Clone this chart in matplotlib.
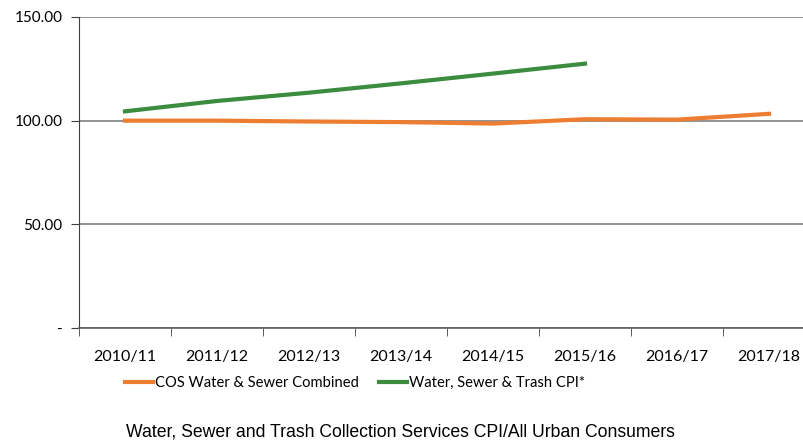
import numpy as np
import matplotlib.pyplot as plt

plt.rcParams['font.family'] = ['Lato', 'DejaVu Sans']

years = ['2010/11', '2011/12', '2012/13', '2013/14', '2014/15', '2015/16', '2016/17', '2017/18']
cos_combined = [100.0, 100.0, 99.6, 99.3, 98.6, 100.7, 100.5, 103.3]
cpi_years = years[:6]
cpi_values = [104.5, 109.5, 113.5, 118.0, 122.7, 127.5]

yticks = [0, 50, 100, 150]
ytick_labels = ['-', '50.00', '100.00', '150.00']

fig = plt.figure(figsize=(8.04, 4.47), dpi=100)
ax = fig.add_axes([79/804, (447-328)/447, (815-79)/804, (328-17)/447])

x = np.arange(len(years))
ax.plot(x, cos_combined, color='#ED7D31', lw=3, label='COS Water & Sewer Combined', zorder=3)
ax.plot(np.arange(len(cpi_years)), cpi_values, color='#3C8C3F', lw=3,
        label='Water, Sewer & Trash CPI*', zorder=3)

ax.set_ylim(0, 150)
ax.set_xlim(-0.5, len(years) - 0.5)
ax.set_yticks(yticks)
ax.set_yticklabels(ytick_labels, fontsize=11)
ax.yaxis.grid(True, color='#7f7f7f', lw=1.2)
ax.set_axisbelow(True)

ax.set_xticks(x)
ax.set_xticklabels(years, fontsize=11.5)
ax.set_xticks(np.arange(len(years) + 1) - 0.5, minor=True)
ax.tick_params(axis='x', which='major', length=0, pad=16)
ax.tick_params(axis='x', which='minor', length=6, color='#404040')
ax.tick_params(axis='y', length=6, color='#404040', pad=6)

for s in ['top', 'right']:
    ax.spines[s].set_visible(False)
ax.spines['left'].set_color('#404040')
ax.spines['bottom'].set_color('#606060')
ax.spines['bottom'].set_linewidth(1.2)

fig.legend(loc='center', bbox_to_anchor=(355/804, 1 - 383/447), ncol=2, frameon=False,
           fontsize=10.6, handlelength=1.9, handletextpad=0.1, columnspacing=1.4)

fig.text(400/804, 1 - 432/447, 'Water, Sewer and Trash Collection Services CPI/All Urban Consumers',
         ha='center', va='center', fontsize=12.7, family=['Liberation Sans', 'DejaVu Sans'])

fig.savefig('out.png', dpi=100)
